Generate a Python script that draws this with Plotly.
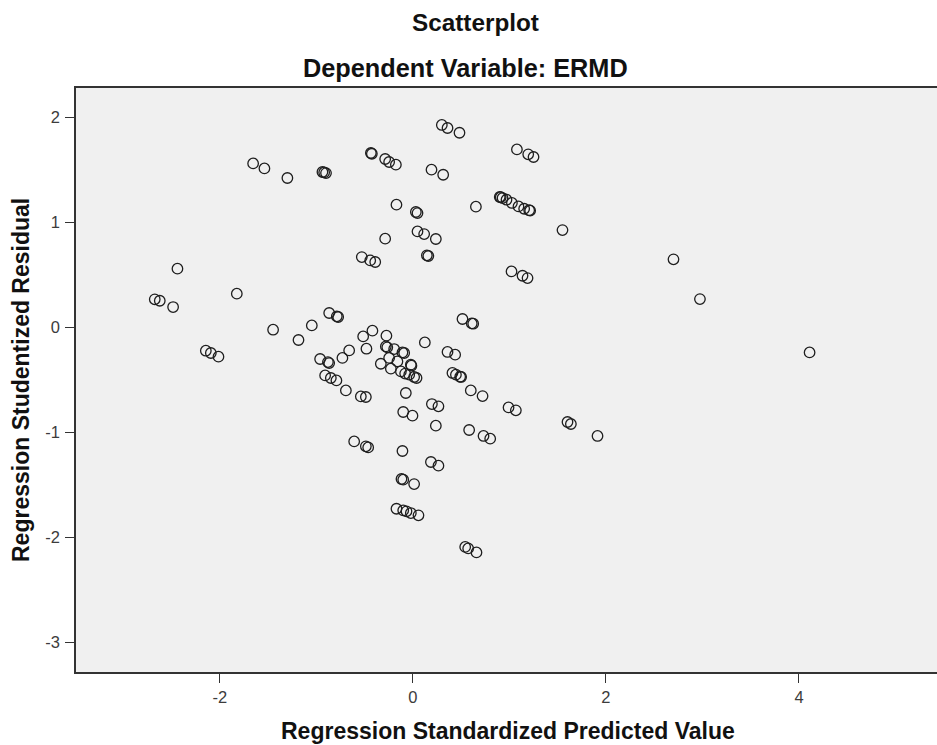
import plotly.graph_objects as go

# Regression Standardized Predicted Value (x) and Regression Studentized Residual (y)
pred = [
    -1.655, -1.538, -1.30, -0.937, -0.919, -0.90, -0.435, -0.425, -0.287, -0.246,
    -0.176, 0.193, 0.314, 0.30, 0.359, 0.483, 1.078, 1.195, 1.25, -0.17,
    0.031, 0.048, 0.653, 0.90, 0.91, 0.929, 0.97, 1.026, 1.094, 1.153,
    1.205, 1.215, 1.55, -0.287, 0.048, 0.117, 0.238, 0.145, 0.16, -0.529,
    -0.442, -0.39, 1.022, 1.136, 1.188, 2.70, 2.974, 4.11, -2.439, -2.674,
    -2.622, -2.484, -1.824, -1.448, -1.185, -1.047, -0.867, -0.788, -0.774, -2.145,
    -2.093, -2.014, 0.514, 0.61, 0.625, -0.515, -0.419, -0.481, -0.66, -0.73,
    -0.274, -0.28, -0.265, -0.194, -0.108, -0.09, -0.332, -0.246, -0.16, -0.228,
    -0.124, -0.021, -0.015, -0.038, 0.013, 0.038, -0.08, -0.073, -0.694, -0.539,
    -0.487, 0.124, 0.359, 0.438, 0.41, 0.446, 0.50, 0.49, 0.60, -0.909,
    -0.85, -0.792, -0.961, -0.88, -0.867, 0.722, 0.197, 0.265, -0.10, -0.004,
    0.991, 1.067, 0.238, 0.583, 0.732, 0.801, 1.602, 1.637, 1.913, -0.108,
    0.187, 0.265, -0.118, -0.10, 0.013, -0.17, -0.10, -0.066, -0.021, 0.058,
    0.542, 0.573, 0.659, -0.608, -0.487, -0.463,
]
resid = [
    1.562, 1.514, 1.423, 1.48, 1.476, 1.47, 1.661, 1.654, 1.604, 1.575,
    1.55, 1.502, 1.454, 1.928, 1.899, 1.854, 1.695, 1.648, 1.623, 1.169,
    1.099, 1.089, 1.15, 1.242, 1.24, 1.232, 1.216, 1.185, 1.152, 1.13,
    1.116, 1.112, 0.927, 0.845, 0.914, 0.889, 0.842, 0.686, 0.68, 0.67,
    0.638, 0.623, 0.533, 0.492, 0.47, 0.648, 0.27, -0.238, 0.559, 0.267,
    0.254, 0.194, 0.321, -0.022, -0.12, 0.019, 0.137, 0.105, 0.099, -0.222,
    -0.244, -0.279, 0.08, 0.038, 0.035, -0.086, -0.031, -0.203, -0.219, -0.291,
    -0.079, -0.181, -0.19, -0.206, -0.238, -0.244, -0.346, -0.291, -0.324, -0.393,
    -0.419, -0.355, -0.365, -0.45, -0.472, -0.482, -0.44, -0.625, -0.60, -0.657,
    -0.663, -0.143, -0.234, -0.26, -0.434, -0.45, -0.472, -0.47, -0.60, -0.457,
    -0.482, -0.505, -0.301, -0.33, -0.34, -0.654, -0.73, -0.752, -0.806, -0.841,
    -0.762, -0.79, -0.936, -0.977, -1.034, -1.06, -0.901, -0.92, -1.034, -1.177,
    -1.282, -1.317, -1.444, -1.45, -1.492, -1.727, -1.743, -1.752, -1.768, -1.79,
    -2.091, -2.105, -2.143, -1.086, -1.133, -1.143,
]

x_ticks = [-2, 0, 2, 4]
y_ticks = [-3, -2, -1, 0, 1, 2]

title_main = "Scatterplot"
title_sub = "Dependent Variable: ERMD"
x_title = "Regression Standardized Predicted Value"
y_title = "Regression Studentized Residual"

W, H = 937, 745
ML, MR, MT, MB = 76, 0, 88, 73
PW, PH = W - ML - MR, H - MT - MB

def px_x(p):
    return (p - ML) / PW

def px_y(p):
    return (H - MB - p) / PH

fig = go.Figure()
fig.add_trace(go.Scatter(
    x=pred, y=resid, mode="markers",
    marker=dict(symbol="circle-open", size=10.5, color="#1e1e1e",
                line=dict(width=1.3, color="#1e1e1e")),
    showlegend=False, hoverinfo="x+y",
))

font_family = "Liberation Sans, Arial, sans-serif"
tick_font = dict(family=font_family, size=16.5, color="#3c3c3c")

fig.update_layout(
    width=W, height=H,
    margin=dict(l=ML, r=MR, t=MT, b=MB, pad=0),
    paper_bgcolor="white",
    plot_bgcolor="#f0f0f0",
    showlegend=False,
    xaxis=dict(
        range=[-3.49, 5.43], tickvals=x_ticks, ticktext=[str(v) for v in x_ticks],
        showgrid=False, zeroline=False,
        showline=True, linecolor="#333333", linewidth=1.6, mirror=True,
        ticks="outside", ticklen=9, tickwidth=1.4, tickcolor="#333333",
        tickfont=tick_font, fixedrange=True,
    ),
    yaxis=dict(
        range=[-3.282, 2.28], tickvals=y_ticks, ticktext=[str(v) for v in y_ticks],
        showgrid=False, zeroline=False,
        showline=True, linecolor="#333333", linewidth=1.6, mirror=False,
        ticks="outside", ticklen=9, tickwidth=1.4, tickcolor="#333333",
        tickfont=tick_font, ticklabelstandoff=2, fixedrange=True,
    ),
    annotations=[
        dict(text=title_main, x=px_x(475), y=px_y(22.7), xref="paper", yref="paper",
             xanchor="center", yanchor="middle", showarrow=False,
             font=dict(family=font_family, size=24.3, color="#111111", weight="bold")),
        dict(text=title_sub, x=px_x(465), y=px_y(68.3), xref="paper", yref="paper",
             xanchor="center", yanchor="middle", showarrow=False,
             font=dict(family=font_family, size=25.3, color="#111111", weight="bold")),
        dict(text=x_title, x=px_x(508), y=px_y(730.7), xref="paper", yref="paper",
             xanchor="center", yanchor="middle", showarrow=False,
             font=dict(family=font_family, size=23, color="#111111", weight="bold")),
        dict(text=y_title, x=px_x(21.7), y=px_y(380.3), xref="paper", yref="paper",
             xanchor="center", yanchor="middle", showarrow=False, textangle=-90,
             font=dict(family=font_family, size=23, color="#111111", weight="bold")),
    ],
)

fig.write_html(
    "out.html",
    config={"displayModeBar": False},
    post_script="document.body.style.margin='0';document.body.style.overflow='hidden';",
)
